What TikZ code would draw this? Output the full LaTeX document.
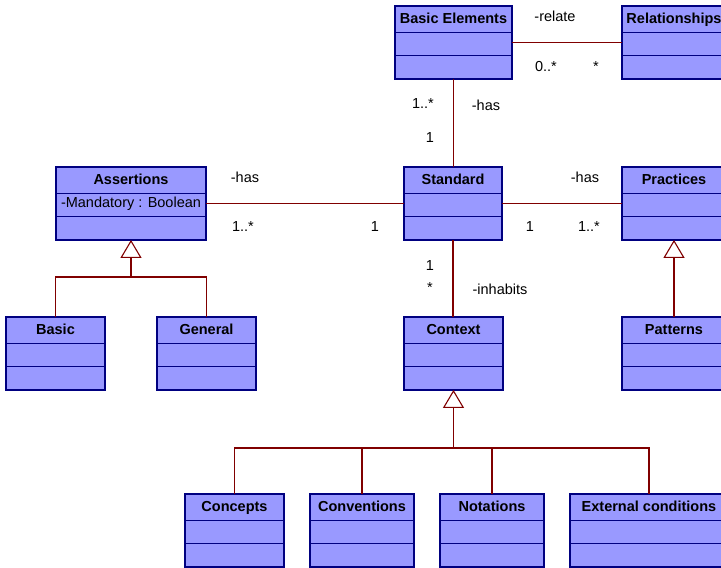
\documentclass[tikz,border=0pt]{standalone}
\usepackage{fontspec}
\setmainfont{Liberation Sans}
\usetikzlibrary{shapes.multipart,arrows.meta}
\definecolor{classfill}{RGB}{153,153,255}
\definecolor{classline}{RGB}{0,0,128}
\definecolor{assocline}{RGB}{128,0,0}
\newcommand{\clshead}[1]{\rule[-8.5pt]{0pt}{25pt}\textbf{#1}}

\begin{document}
\begin{tikzpicture}[x=1pt,y=-1pt]
\tikzstyle{umlclass}=[rectangle split, rectangle split parts=3,
  rectangle split ignore empty parts=false,
  rectangle split empty part height=22pt, rectangle split empty part depth=0pt,
  draw=classline, fill=classfill, line width=1.3pt, inner xsep=1pt, inner ysep=0pt,
  outer sep=0pt, anchor=north, font=\fontsize{14.5}{17}\selectfont]
\tikzstyle{assoc}=[draw=assocline, line width=1.1pt]
\tikzstyle{gen}=[assoc, -{Triangle[open, fill=white, length=18pt, width=21pt]}]
\tikzstyle{lbl}=[font=\fontsize{14.5}{17}\selectfont, inner sep=0pt]
\clip (0,0) rectangle (721,568);

% classes
\node[umlclass, minimum width=117] (basicel) at (453.5,6) {\clshead{Basic Elements}\nodepart{two}\nodepart{three}};
\node[umlclass, minimum width=104] (relations) at (674,6) {\clshead{Relationships}\nodepart{two}\nodepart{three}};
\node[umlclass, minimum width=150] (assert) at (131,167) {\clshead{Assertions}\nodepart{two}\rule[-8.5pt]{0pt}{22pt}-Mandatory : Boolean\nodepart{three}};
\node[umlclass, minimum width=98] (standard) at (453,167) {\clshead{Standard}\nodepart{two}\nodepart{three}};
\node[umlclass, minimum width=104] (practices) at (674,167) {\clshead{Practices}\nodepart{two}\nodepart{three}};
\node[umlclass, minimum width=99] (basic) at (55.5,317) {\clshead{Basic}\nodepart{two}\nodepart{three}};
\node[umlclass, minimum width=99] (general) at (206.5,317) {\clshead{General}\nodepart{two}\nodepart{three}};
\node[umlclass, minimum width=99] (context) at (453.5,317) {\clshead{Context}\nodepart{two}\nodepart{three}};
\node[umlclass, minimum width=104] (patterns) at (674,317) {\clshead{Patterns}\nodepart{two}\nodepart{three}};
\node[umlclass, minimum width=99] (concepts) at (234.5,494) {\clshead{Concepts}\nodepart{two}\nodepart{three}};
\node[umlclass, minimum width=104] (conventions) at (362,494) {\clshead{Conventions}\nodepart{two}\nodepart{three}};
\node[umlclass, minimum width=104] (notations) at (492,494) {\clshead{Notations}\nodepart{two}\nodepart{three}};
\node[umlclass, minimum width=158] (extcond) at (649,494) {\clshead{External conditions}\nodepart{two}\nodepart{three}};

% associations
\draw[assoc] (basicel) -- (relations);
\draw[assoc] (basicel.south) -- (basicel.south |- standard.north);
\draw[assoc] (assert) -- (standard);
\draw[assoc] (standard) -- (practices);
\draw[assoc] (standard.south) -- (standard.south |- context.north);

% generalizations
\coordinate (asbar) at (131,277);
\coordinate (ctxbar) at (453.5,448);
\draw[assoc] (basic.north) |- (general.north |- asbar) -- (general.north);
\draw[gen] (asbar) -- (assert.south);
\draw[gen] (patterns) -- (practices);
\foreach \c in {concepts,conventions,notations,extcond}
  \draw[assoc] (\c.north) |- (ctxbar);
\draw[gen] (ctxbar) -- (context.south);

% labels
\node[lbl] (rel-name) at (555,16) {-relate};
\node[lbl] (rel-m1) at (546,67) {0..*};
\node[lbl] (rel-m2) at (596,67) {*};
\node[lbl] (std-m1) at (423,104) {1..*};
\node[lbl] (std-name) at (486,105) {-has};
\node[lbl] (std-m2) at (430,138) {1};
\node[lbl] (as-name) at (245,177) {-has};
\node[lbl] (as-m1) at (243,227) {1..*};
\node[lbl] (as-m2) at (375,227) {1};
\node[lbl] (pr-name) at (585,177) {-has};
\node[lbl] (pr-m1) at (530,227) {1};
\node[lbl] (pr-m2) at (589,227) {1..*};
\node[lbl] (ctx-m1) at (430,266) {1};
\node[lbl] (ctx-m2) at (430,288) {*};
\node[lbl] (ctx-name) at (500,289) {-inhabits};
\end{tikzpicture}
\end{document}
